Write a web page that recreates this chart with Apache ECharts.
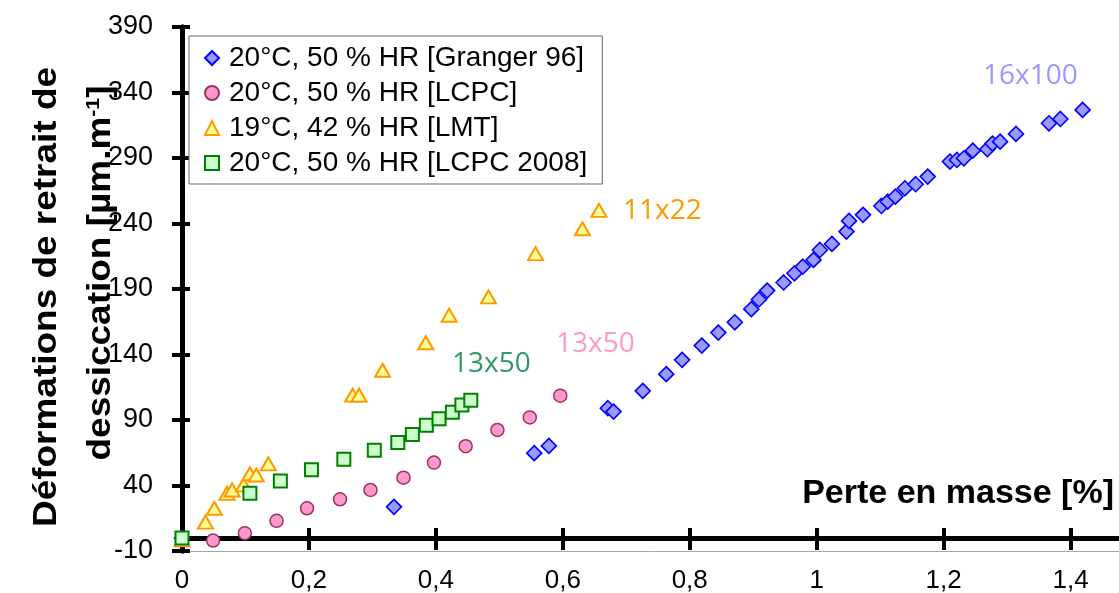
<!DOCTYPE html>
<html><head><meta charset="utf-8">
<script src="https://cdn.jsdelivr.net/npm/echarts@6/dist/echarts.min.js"></script>
<style>html,body{margin:0;padding:0;background:#fff;overflow:hidden}#c{width:1119px;height:593px}</style>
</head><body><div id="c"></div>
<script>
// ---- data ----
const seriesNames = ['20°C, 50 % HR [Granger 96]', '20°C, 50 % HR [LCPC]', '19°C, 42 % HR [LMT]', '20°C, 50 % HR [LCPC 2008]'];
const granger96 = [[0,0],[0.334,23.7],[0.555,64.7],[0.578,70.2],[0.671,99],[0.680,96.4],[0.726,112.2],[0.763,125],[0.788,135.9],[0.819,146.8],[0.845,156.7],[0.871,164.6],[0.897,174.6],[0.909,182],[0.922,188.8],[0.948,195],[0.965,202],[0.978,207],[0.995,212.2],[1.005,219.8],[1.024,224.4],[1.047,233.8],[1.051,242],[1.073,246.6],[1.102,253.4],[1.112,256.7],[1.124,260.5],[1.139,266.9],[1.156,270],[1.175,275.8],[1.210,287.3],[1.221,288.5],[1.232,289.8],[1.246,295.6],[1.269,296.7],[1.277,301],[1.289,302.5],[1.314,308.4],[1.366,316.5],[1.384,319.8],[1.419,326.7]];
const lcpc = [[0.049,-2],[0.099,3.6],[0.149,13],[0.197,22.6],[0.249,29.5],[0.297,36.6],[0.349,46],[0.397,57.5],[0.447,70],[0.497,82.4],[0.548,92],[0.596,108.6]];
const lmt = [[0,-1.5],[0.037,12],[0.051,22.6],[0.071,34],[0.079,36.6],[0.097,40.5],[0.107,49],[0.117,48],[0.136,56.5],[0.269,109],[0.279,109],[0.316,128],[0.384,149],[0.421,170],[0.483,184],[0.557,217],[0.631,236],[0.657,250]];
const lcpc2008 = [[0,0],[0.107,34],[0.155,43.5],[0.204,52],[0.255,60],[0.303,67],[0.340,72.8],[0.363,79],[0.385,86],[0.405,91],[0.426,96],[0.441,101.5],[0.455,105]];
const xRange = [0, 1.5], xStep = 0.2, xLastLabel = 1.4;
const yRange = [-10, 390], yStep = 50;
const xTitle = 'Perte en masse [%]';
const yTitle1 = 'Déformations de retrait de';
const yTitle2 = 'dessiccation [µm.m';
const annotations = [
  {text: '16x100', color: '#9999ff', x: 983, y: 76},
  {text: '11x22', color: '#ff9900', x: 623, y: 211},
  {text: '13x50', color: '#ff99cc', x: 556, y: 344},
  {text: '13x50', color: '#339966', x: 452, y: 364}
];

const F = '"Liberation Sans", Arial, sans-serif';
const fmt = v => (+v > xLastLabel + 1e-6) ? '' : String(+(+v).toFixed(2)).replace('.', ',');
const chart = echarts.init(document.getElementById('c'), null, {renderer: 'canvas'});

function xAx(extra) {
  return Object.assign({type: 'value', min: xRange[0], max: xRange[1], interval: xStep, position: 'bottom',
    splitLine: {show: false}, axisLabel: {show: false}, axisTick: {show: false}}, extra);
}
function yAx(extra) {
  return Object.assign({type: 'value', min: yRange[0], max: yRange[1], interval: yStep, position: 'left',
    splitLine: {show: false}, axisLabel: {show: false}, axisTick: {show: false}}, extra);
}

const option = {
  animation: false,
  grid: {left: 182, top: 27, bottom: 42, width: 952, containLabel: false, outerBoundsMode: 'none'},
  xAxis: [
    xAx({axisLine: {onZero: false, lineStyle: {color: '#a6a6a6', width: 1}},
         axisLabel: {show: true, margin: 17, fontSize: 26, color: '#000', fontFamily: F, formatter: fmt}}),
    xAx({axisLine: {onZero: true, onZeroAxisIndex: 0, lineStyle: {color: '#000', width: 5}},
         axisTick: {show: true, length: 12, lineStyle: {color: '#000', width: 4}}}),
    xAx({axisLine: {onZero: true, onZeroAxisIndex: 0, lineStyle: {color: '#000', width: 5}},
         axisTick: {show: true, inside: true, length: 10, lineStyle: {color: '#000', width: 4}}})
  ],
  yAxis: [
    yAx({axisLine: {onZero: false, lineStyle: {color: '#000', width: 5}},
         axisTick: {show: true, length: 10, lineStyle: {color: '#000', width: 4}},
         axisLabel: {show: true, margin: 29, fontSize: 27, color: '#000', fontFamily: F}}),
    yAx({axisLine: {onZero: false, lineStyle: {color: '#000', width: 5}},
         axisTick: {show: true, inside: true, length: 8, lineStyle: {color: '#000', width: 4}}})
  ],
  legend: {
    orient: 'vertical', left: 189, top: 36,
    padding: [8, 15, 7, 15], itemGap: 7, itemWidth: 14, itemHeight: 14,
    backgroundColor: '#fff', borderColor: '#666', borderWidth: 1,
    textStyle: {fontSize: 28, lineHeight: 28, color: '#000', fontFamily: F, padding: [0, 0, 0, 5]},
    data: seriesNames
  },
  series: [
    {name: seriesNames[0], type: 'scatter', data: granger96, symbol: 'diamond', symbolSize: 15,
     itemStyle: {color: '#9999ff', borderColor: '#0000ff', borderWidth: 1.6, opacity: 1}},
    {name: seriesNames[1], type: 'scatter', data: lcpc, symbol: 'circle', symbolSize: 13,
     itemStyle: {color: '#ff99cc', borderColor: '#993366', borderWidth: 1.5, opacity: 1}},
    {name: seriesNames[2], type: 'scatter', data: lmt, symbol: 'triangle', symbolSize: [15, 13],
     itemStyle: {color: '#ffff99', borderColor: '#ff9900', borderWidth: 2, opacity: 1}},
    {name: seriesNames[3], type: 'scatter', data: lcpc2008, symbol: 'rect', symbolSize: 13,
     itemStyle: {color: '#ccffcc', borderColor: '#008000', borderWidth: 2, opacity: 1}}
  ],
  graphic: [
    {type: 'text', x: 47, y: 297, rotation: Math.PI / 2, scaleX: 1.12,
     style: {text: yTitle1, fontSize: 33, fontWeight: 'bold', fontFamily: F, fill: '#000', align: 'center', verticalAlign: 'middle'}},
    {type: 'text', x: 101, y: 273, rotation: Math.PI / 2, scaleX: 1.12,
     style: {text: '{a|' + yTitle2 + '}{s|-1}{a|]}', align: 'center', verticalAlign: 'middle',
       rich: {a: {fontSize: 33, fontWeight: 'bold', fontFamily: F, fill: '#000'},
              s: {fontSize: 19, fontWeight: 'bold', fontFamily: F, fill: '#000', verticalAlign: 'top'}}}},
    {type: 'text', x: 1114, y: 494,
     style: {text: xTitle, fontSize: 34, fontWeight: 'bold', fontFamily: F, fill: '#000', align: 'right', verticalAlign: 'middle'}}
  ].concat(annotations.map(a => ({type: 'text', x: a.x, y: a.y,
     style: {text: a.text, fontSize: 28, fontFamily: '"Open Sans", sans-serif', fill: a.color, align: 'left', verticalAlign: 'middle'}})))
};
chart.setOption(option);
</script></body></html>
